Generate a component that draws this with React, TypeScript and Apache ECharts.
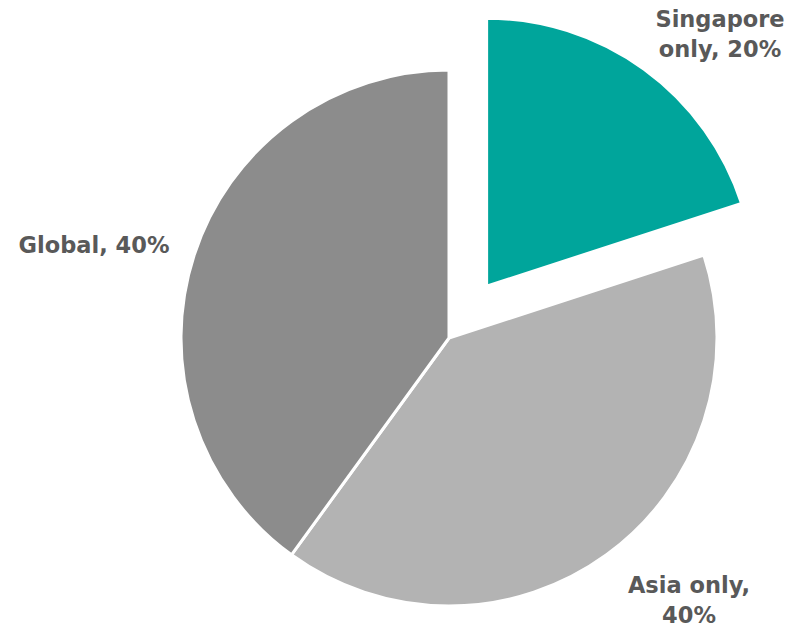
import React, { useEffect, useRef } from "react";
import * as echarts from "echarts";

const categories = ["Singapore only", "Asia only", "Global"];
const values = [20, 40, 40];
const sliceColors = ["#00A59B", "#B3B3B3", "#8C8C8C"];
// where each label wraps: text before "|" goes on the first line
const labelTemplates = ["Singapore\nonly, {d}%", "Asia only,\n{d}%", "Global, {d}%"];
const explodedIndex = 0;

// label anchor points (center of the text block)
const labelAnchors: [number, number][] = [
  [720, 34],
  [689, 600],
  [94, 245],
];

export default function App() {
  const ref = useRef<HTMLDivElement>(null);
  useEffect(() => {
    document.body.style.margin = "0";
    if (!ref.current) return;
    const chart = echarts.init(ref.current, undefined, { renderer: "svg" });
    const total = values.reduce((a, b) => a + b, 0);
    const labelTexts = labelTemplates.map((t, i) =>
      t.replace("{d}", String(Math.round((values[i] / total) * 100)))
    );
    chart.setOption({
      animation: false,
      backgroundColor: "#ffffff",
      graphic: labelTexts.map((text, i) => ({
        type: "text",
        x: labelAnchors[i][0],
        y: labelAnchors[i][1],
        silent: true,
        style: {
          text,
          fill: "#595959",
          font: "bold 22.5px 'DejaVu Sans'",
          lineHeight: 30,
          align: "center",
          verticalAlign: "middle",
        },
      })),
      series: [
        {
          type: "pie",
          center: [449, 338],
          radius: [0, 268],
          startAngle: 90,
          clockwise: true,
          selectedMode: "single",
          selectedOffset: 64,
          itemStyle: { borderColor: "#ffffff", borderWidth: 3 },
          emphasis: { disabled: true },
          label: { show: false },
          labelLine: { show: false },
          data: categories.map((name, i) => ({
            name,
            value: values[i],
            selected: i === explodedIndex,
            itemStyle: { color: sliceColors[i] },
          })),
        },
      ],
    });
    return () => chart.dispose();
  }, []);
  return <div ref={ref} style={{ width: 809, height: 630 }} />;
}
